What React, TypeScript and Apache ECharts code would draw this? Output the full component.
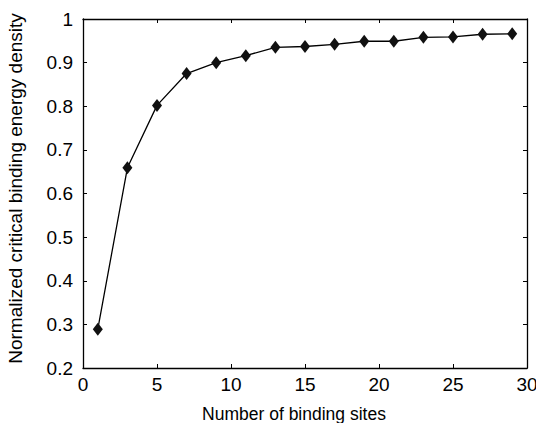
import React, { useEffect, useRef } from "react";
import * as echarts from "echarts";

const bindingSites = [1, 3, 5, 7, 9, 11, 13, 15, 17, 19, 21, 23, 25, 27, 29];
const energyDensity = [0.289, 0.659, 0.802, 0.875, 0.9, 0.916, 0.935, 0.937, 0.942, 0.949, 0.949, 0.958, 0.959, 0.965, 0.966];
const xTitle = "Number of binding sites";
const yTitle = "Normalized critical binding energy density";

export default function App() {
  const ref = useRef<HTMLDivElement>(null);
  useEffect(() => {
    if (!ref.current) return;
    const chart = echarts.init(ref.current, null, { renderer: "svg" });
    const font = "Liberation Sans, Arial, Helvetica, sans-serif";
    const lineStyle = { color: "#000", width: 1.3 };
    chart.setOption({
      animation: false,
      backgroundColor: "#fff",
      grid: { left: 83, right: 9, top: 19, bottom: 55, containLabel: false, outerBoundsMode: "none" },
      xAxis: [
        {
          type: "value",
          min: 0,
          max: 30,
          interval: 5,
          position: "bottom",
          name: xTitle,
          nameLocation: "middle",
          nameGap: 37,
          nameTextStyle: { color: "#000", fontSize: 17.5, fontFamily: font, padding: [0, 22, 0, 0] },
          axisLine: { show: true, onZero: false, lineStyle },
          axisTick: { show: true, inside: true, length: 4, lineStyle: { color: "#000", width: 1 } },
          axisLabel: { color: "#000", fontSize: 19, fontFamily: font, margin: 7 },
          splitLine: { show: false },
        },
        {
          type: "value",
          min: 0,
          max: 30,
          interval: 5,
          position: "top",
          axisLine: { show: true, onZero: false, lineStyle },
          axisTick: { show: true, inside: true, length: 4, lineStyle: { color: "#000", width: 1 } },
          axisLabel: { show: false },
          splitLine: { show: false },
        },
      ],
      yAxis: [
        {
          type: "value",
          min: 0.2,
          max: 1,
          interval: 0.1,
          position: "left",
          name: yTitle,
          nameLocation: "middle",
          nameGap: 58,
          nameRotate: 90,
          nameTextStyle: { color: "#000", fontSize: 19, fontFamily: font, padding: [0, 0, 0, 10] },
          axisLine: { show: true, onZero: false, lineStyle },
          axisTick: { show: true, inside: true, length: 4, lineStyle: { color: "#000", width: 1 } },
          axisLabel: {
            color: "#000",
            fontSize: 19,
            fontFamily: font,
            margin: 10,
            formatter: (v: number) => String(+v.toFixed(1)),
          },
          splitLine: { show: false },
        },
        {
          type: "value",
          min: 0.2,
          max: 1,
          interval: 0.1,
          position: "right",
          axisLine: { show: true, onZero: false, lineStyle },
          axisTick: { show: true, inside: true, length: 4, lineStyle: { color: "#000", width: 1 } },
          axisLabel: { show: false },
          splitLine: { show: false },
        },
      ],
      series: [
        {
          type: "line",
          data: bindingSites.map((x, i) => [x, energyDensity[i]]),
          symbol: "diamond",
          symbolSize: [10, 13],
          lineStyle: { color: "#000", width: 1.3 },
          itemStyle: { color: "#111", borderWidth: 0 },
        },
      ],
    });
    return () => chart.dispose();
  }, []);
  return <div ref={ref} style={{ width: 536, height: 423, position: "absolute", left: 0, top: 0 }} />;
}
